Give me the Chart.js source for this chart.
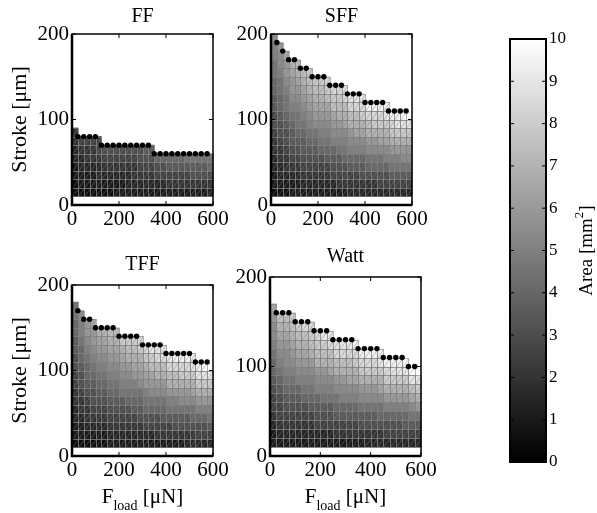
<!DOCTYPE html>
<html>
<head>
<meta charset="utf-8">
<script src="https://cdn.jsdelivr.net/npm/chart.js@4.4.1/dist/chart.umd.min.js"></script>
<style>
  html, body { margin: 0; padding: 0; background: #fff; }
  #wrap { position: relative; width: 597px; height: 513px; overflow: hidden; }
  canvas { position: absolute; left: 0; top: 0; }
</style>
</head>
<body>
<div id="wrap">
  <canvas id="cFF" width="597" height="513"></canvas>
  <canvas id="cSFF" width="597" height="513"></canvas>
  <canvas id="cTFF" width="597" height="513"></canvas>
  <canvas id="cWatt" width="597" height="513"></canvas>
  <canvas id="cBar" width="597" height="513"></canvas>
</div>
<script>
const SERIF = "'Liberation Serif', 'Times New Roman', serif";

// axis ticks
const X_TICKS = [0, 200, 400, 600];
const Y_TICKS = [0, 100, 200];
const CBAR_TICKS = [0, 1, 2, 3, 4, 5, 6, 7, 8, 9, 10];

// force bins (left edge, uN), each bin is 25 wide; stroke bins are 10 um starting at 10
const F_LOAD = [0, 25, 50, 75, 100, 125, 150, 175, 200, 225, 250, 275,
                300, 325, 350, 375, 400, 425, 450, 475, 500, 525, 550, 575];
const F_BIN = 25;
const STROKE0 = 10;
const S_BIN = 10;

// area per cell, one string per force bin, bottom -> top
// each char is a level: index in LEVELS / 2 = area [mm^2]
const LEVELS = '0123456789ABCDEFGHIJK';

const AREA_FF = [
  '11223344',
  '1223345', '1223445', '1223445', '1233455',
  '123456', '123456', '223456', '223456', '233456', '234456', '234566', '234567', '234567',
  '23568', '23568', '24578', '24578', '24578', '24579', '24679', '24679', '24679', '34689'
];
const AREA_SFF = [
  '1223344566778899AAB', '12334456678899ABBC', '123445667899ABCCD', '2234567789ABCCDE',
  '2234567899ABCDEF', '234567789ABCDEF', '23456789ABCDEFG', '23456789BCDEFG',
  '2345689ABCDEFG', '2345789ABCDFGH', '235678ABCDFGH', '245679ABCEFGH',
  '245689ABDEFHI', '34578ABCEFHI', '34578ABDEFHI', '34678ABDEGHI',
  '34689BCEFHJ', '34689BCEGHJ', '35689BDEGHJ', '3568ABDEGIJ',
  '3579ACEGHJ', '3579ACEGIJ', '3579BCEGIK', '3579BCEGI'
];
const AREA_TFF = [
  '12233445566778899', '1223445667889AAB', '12344567889ABCC', '1234566789ABCCD',
  '123456789ABCDE', '123456789ABCDE', '23456789ABCDEF', '23456789ABCDEF',
  '2345679ABCDEG', '2345689ABCEFG', '2345789ACDEFG', '2346789BCDEGH',
  '235689ACDEGH', '235689BCDFGI', '245689BCEFHI', '245789BCEFHI',
  '24579ACEFHI', '24679ACEFHJ', '24679BCEGHJ', '34679BCEGHJ',
  '34689BDEGIJ', '3568ACEGIJ', '3568ACEGIK', '3579ACEGI'
];
const AREA_WATT = [
  '22345567889ABBCD', '234556789ABCDEF', '23456789ABBCDEF', '23456789ABCDEFG',
  '2345678ABCDEFG', '2345689ABCDEFH', '2345789ABCEFGH', '235678ABCEFGH',
  '235679ABCEFGI', '235679ABDEFHI', '245789BCEFHI', '24578ABCEFHI',
  '24578ABDEFHI', '24578ABDEGHJ', '24679BCEGHJ', '34679BCEGHJ',
  '34679BCEGHJ', '34689BDEGIJ', '3568ACEGHJ', '3568ACEGIJ',
  '3568ACEGIJ', '3578ACEGIK', '3579BDFIK', '3579CEGI'
];

// max stroke markers (black dots)
const DOT_F = [25, 50, 75, 100, 125, 150, 175, 200, 225, 250, 275, 300,
               325, 350, 375, 400, 425, 450, 475, 500, 525, 550, 575];
const MAX_FF = [80, 80, 80, 80, 70, 70, 70, 70, 70, 70, 70, 70,
                70, 60, 60, 60, 60, 60, 60, 60, 60, 60, 60];
const MAX_SFF = [190, 180, 170, 170, 160, 160, 150, 150, 150, 140, 140, 140,
                 130, 130, 130, 120, 120, 120, 120, 110, 110, 110, 110];
const MAX_TFF = [170, 160, 160, 150, 150, 150, 150, 140, 140, 140, 140, 130,
                 130, 130, 130, 120, 120, 120, 120, 120, 110, 110, 110];
const MAX_WATT = [160, 160, 160, 150, 150, 150, 140, 140, 140, 130, 130, 130,
                  130, 120, 120, 120, 120, 110, 110, 110, 110, 100, 100];

const AREA_MAX = CBAR_TICKS[CBAR_TICKS.length - 1];

function grayOf(ch) {
  const v = LEVELS.indexOf(ch) / 2;
  const g = Math.round(v / AREA_MAX * 255);
  return `rgb(${g},${g},${g})`;
}

function cellDatasets(area) {
  return area.map((col, c) => ({
    type: 'bar',
    data: Array.from(col, (ch, r) => ({
      x: F_LOAD[c] + F_BIN / 2,
      y: [STROKE0 + r * S_BIN, STROKE0 + (r + 1) * S_BIN]
    })),
    backgroundColor: Array.from(col, ch => grayOf(ch)),
    borderWidth: 0,
    inflateAmount: 0.4,
    grouped: false,
    barPercentage: 1,
    categoryPercentage: 1,
    order: 1
  }));
}

function line(ctx, x1, y1, x2, y2) {
  ctx.beginPath();
  ctx.moveTo(x1, y1);
  ctx.lineTo(x2, y2);
  ctx.stroke();
}

const panelDeco = {
  id: 'panel',
  beforeDatasetDraw(chart, args) {
    if (args.meta.type !== 'scatter') return;
    // mesh edges of the cells, under the markers
    const ctx = chart.ctx;
    ctx.save();
    ctx.lineWidth = 1;
    chart.getSortedVisibleDatasetMetas().forEach(meta => {
      if (meta.type !== 'bar') return;
      meta.data.forEach(el => {
        const p = el.getProps(['x', 'y', 'base', 'width'], true);
        const l = Math.round(p.x - p.width / 2) + 0.5;
        const r = Math.round(p.x + p.width / 2) + 0.5;
        const t = Math.round(Math.min(p.y, p.base)) + 0.5;
        const b = Math.round(Math.max(p.y, p.base)) + 0.5;
        ctx.strokeStyle = 'rgba(128,128,128,0.6)';
        ctx.strokeRect(l, t, r - l, b - t);
        ctx.strokeStyle = 'rgba(128,128,128,0.45)';
        line(ctx, l, b, r, t);
      });
    });
    ctx.restore();
  },
  afterDraw(chart, args, opts) {
    const { ctx, chartArea: a } = chart;
    const xs = chart.scales.x, ys = chart.scales.y;
    ctx.save();
    ctx.strokeStyle = '#000';
    ctx.lineWidth = 1.5;
    ctx.strokeRect(a.left, a.top, a.right - a.left, a.bottom - a.top);
    ctx.lineWidth = 2.5;
    ctx.beginPath();
    ctx.moveTo(a.left, a.top);
    ctx.lineTo(a.left, a.bottom);
    ctx.lineTo(a.right, a.bottom);
    ctx.stroke();
    ctx.lineWidth = 1;
    xs.ticks.forEach(t => {
      const px = xs.getPixelForValue(t.value);
      line(ctx, px, a.bottom, px, a.bottom - 4);
      line(ctx, px, a.top, px, a.top + 4);
    });
    ys.ticks.forEach(t => {
      const py = ys.getPixelForValue(t.value);
      line(ctx, a.left, py, a.left + 4, py);
      line(ctx, a.right, py, a.right - 4, py);
    });

    ctx.fillStyle = '#000';
    ctx.font = `20px ${SERIF}`;
    ctx.textAlign = 'center';
    ctx.textBaseline = 'alphabetic';
    ctx.fillText(opts.title, (a.left + a.right) / 2, opts.titleY);

    if (opts.yTitle) {
      ctx.save();
      ctx.translate(20, (a.top + a.bottom) / 2);
      ctx.rotate(-Math.PI / 2);
      ctx.textBaseline = 'middle';
      ctx.font = `22px ${SERIF}`;
      ctx.fillText('Stroke [μm]', 0, 0);
      ctx.restore();
    }
    if (opts.xTitle) {
      const big = `21px ${SERIF}`, small = `14px ${SERIF}`;
      ctx.textAlign = 'left';
      ctx.font = big;
      const wF = ctx.measureText('F').width;
      const wU = ctx.measureText(' [μN]').width;
      ctx.font = small;
      const wS = ctx.measureText('load').width;
      let sx = (a.left + a.right) / 2 - (wF + wS + wU) / 2;
      const by = a.bottom + 47;
      ctx.font = big;
      ctx.fillText('F', sx, by);
      sx += wF;
      ctx.font = small;
      ctx.fillText('load', sx, by + 7);
      sx += wS;
      ctx.font = big;
      ctx.fillText(' [μN]', sx, by);
    }
    ctx.restore();
  }
};

const PANELS = [
  { id: 'cFF', title: 'FF', area: AREA_FF, dots: MAX_FF, box: [72, 34, 213, 205], titleY: 22, yTitle: true, xTitle: false },
  { id: 'cSFF', title: 'SFF', area: AREA_SFF, dots: MAX_SFF, box: [271, 34, 412, 205], titleY: 22, yTitle: false, xTitle: false },
  { id: 'cTFF', title: 'TFF', area: AREA_TFF, dots: MAX_TFF, box: [72, 285, 213, 456], titleY: 270, yTitle: true, xTitle: true },
  { id: 'cWatt', title: 'Watt', area: AREA_WATT, dots: MAX_WATT, box: [270, 277, 421, 456], titleY: 262, yTitle: false, xTitle: true }
];

const Y_AXIS_W = 40, X_AXIS_H = 30;
const tickFont = { family: SERIF, size: 21 };

PANELS.forEach(p => {
  const [l, t, r, b] = p.box;
  const datasets = cellDatasets(p.area);
  datasets.push({
    type: 'scatter',
    data: DOT_F.map((f, i) => ({ x: f, y: p.dots[i] })),
    pointRadius: 2.7,
    pointBackgroundColor: '#000',
    pointBorderWidth: 0,
    order: 0
  });
  new Chart(document.getElementById(p.id), {
    type: 'bar',
    data: { datasets },
    options: {
      responsive: false,
      animation: false,
      events: [],
      layout: { padding: { left: l - Y_AXIS_W, top: t, right: 597 - r, bottom: 513 - b - X_AXIS_H } },
      plugins: {
        legend: { display: false },
        tooltip: { enabled: false },
        panel: { title: p.title, titleY: p.titleY, yTitle: p.yTitle, xTitle: p.xTitle }
      },
      scales: {
        x: {
          type: 'linear',
          min: X_TICKS[0],
          max: X_TICKS[X_TICKS.length - 1],
          offset: false,
          grid: { display: false, drawTicks: false, offset: false },
          border: { display: false },
          afterBuildTicks: s => { s.ticks = X_TICKS.map(v => ({ value: v })); },
          afterFit: s => { s.height = X_AXIS_H; },
          ticks: { font: tickFont, color: '#000', padding: 2, maxRotation: 0, autoSkip: false }
        },
        y: {
          type: 'linear',
          min: Y_TICKS[0],
          max: Y_TICKS[Y_TICKS.length - 1],
          grid: { display: false, drawTicks: false },
          border: { display: false },
          afterBuildTicks: s => { s.ticks = Y_TICKS.map(v => ({ value: v })); },
          afterFit: s => { s.width = Y_AXIS_W; },
          ticks: { font: tickFont, color: '#000', padding: 3 }
        }
      }
    },
    plugins: [panelDeco]
  });
});

// colorbar
const cbarDeco = {
  id: 'cbar',
  afterDraw(chart) {
    const { ctx, chartArea: a } = chart;
    const ys = chart.scales.y;
    ctx.save();
    ctx.strokeStyle = '#000';
    ctx.lineWidth = 1;
    ys.ticks.forEach(t => {
      const py = ys.getPixelForValue(t.value);
      line(ctx, a.left, py, a.left + 4, py);
      line(ctx, a.right, py, a.right - 4, py);
    });
    ctx.lineWidth = 2;
    ctx.strokeRect(a.left, a.top, a.right - a.left, a.bottom - a.top);

    // rotated label with superscript
    ctx.fillStyle = '#000';
    ctx.translate(587, (a.top + a.bottom) / 2);
    ctx.rotate(-Math.PI / 2);
    ctx.textBaseline = 'middle';
    ctx.textAlign = 'left';
    const big = `19px ${SERIF}`, small = `13px ${SERIF}`;
    ctx.font = big;
    const w1 = ctx.measureText('Area [mm').width;
    const w3 = ctx.measureText(']').width;
    ctx.font = small;
    const w2 = ctx.measureText('2').width;
    let sx = -(w1 + w2 + w3) / 2;
    ctx.font = big;
    ctx.fillText('Area [mm', sx, 0);
    sx += w1;
    ctx.font = small;
    ctx.fillText('2', sx, -7);
    sx += w2;
    ctx.font = big;
    ctx.fillText(']', sx, 0);
    ctx.restore();
  }
};

new Chart(document.getElementById('cBar'), {
  type: 'bar',
  data: {
    labels: [''],
    datasets: [{
      data: [[CBAR_TICKS[0], AREA_MAX]],
      backgroundColor: c => {
        const a = c.chart.chartArea;
        if (!a) return '#888';
        const g = c.chart.ctx.createLinearGradient(0, a.bottom, 0, a.top);
        g.addColorStop(0, '#000');
        g.addColorStop(1, '#fff');
        return g;
      },
      borderWidth: 0,
      barPercentage: 1,
      categoryPercentage: 1
    }]
  },
  options: {
    responsive: false,
    animation: false,
    events: [],
    layout: { padding: { left: 510, top: 39, right: 597 - 546 - 40, bottom: 513 - 462 } },
    plugins: { legend: { display: false }, tooltip: { enabled: false } },
    scales: {
      x: { display: false },
      y: {
        position: 'right',
        min: CBAR_TICKS[0],
        max: AREA_MAX,
        grid: { display: false, drawTicks: false },
        border: { display: false },
        afterBuildTicks: s => { s.ticks = CBAR_TICKS.map(v => ({ value: v })); },
        afterFit: s => { s.width = 40; },
        ticks: { font: { family: SERIF, size: 17 }, color: '#000', padding: 3 }
      }
    }
  },
  plugins: [cbarDeco]
});
</script>
</body>
</html>
